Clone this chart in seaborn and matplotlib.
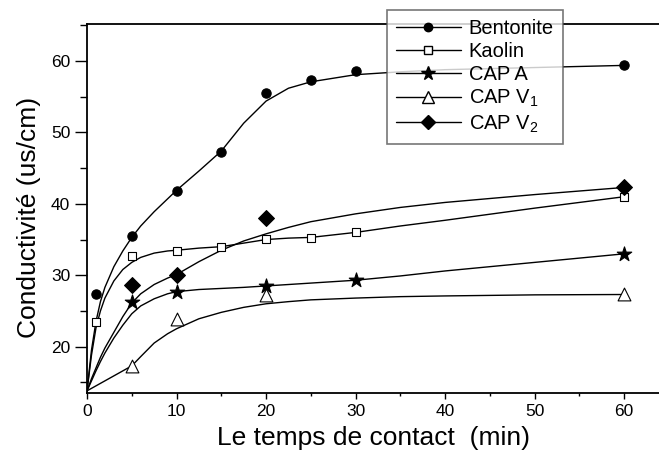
import numpy as np
import pandas as pd
import seaborn as sns
import matplotlib.pyplot as plt
from matplotlib.lines import Line2D
import matplotlib.ticker as ticker

# measured points
t_bent = [1, 5, 10, 15, 20, 25, 30, 60]
bent = [27.4, 35.5, 41.8, 47.2, 55.6, 57.3, 58.6, 59.4]
t_kaol = [1, 5, 10, 15, 20, 25, 30, 60]
kaol = [23.4, 32.7, 33.4, 33.9, 35.1, 35.2, 36.0, 41.0]
t_capa = [5, 10, 20, 30, 60]
capa = [26.2, 27.7, 28.5, 29.3, 33.0]
t_capv1 = [5, 10, 20, 60]
capv1 = [17.3, 23.8, 27.2, 27.35]
t_capv2 = [5, 10, 20, 60]
capv2 = [28.6, 30.0, 38.0, 42.3]

# fitted curves
t_fit = [0, 0.5, 1, 1.5, 2, 3, 4, 5, 6, 7.5, 9, 10, 12.5, 15, 17.5, 20, 22.5, 25, 30, 35, 40, 50, 60]
fit_bent = [13.8, 19.5, 23.5, 26.3, 28.3, 31.2, 33.4, 35.3, 36.9, 38.9, 40.7, 41.9, 44.6, 47.4, 51.3,
            54.4, 56.2, 57.1, 58.1, 58.5, 58.8, 59.1, 59.4]
fit_kaol = [13.8, 18.8, 22.6, 25.0, 26.8, 29.2, 30.8, 31.8, 32.5, 33.1, 33.4, 33.5, 33.8, 34.0, 34.5,
            35.0, 35.2, 35.3, 36.0, 36.9, 37.7, 39.4, 41.0]
fit_capa = [13.8, 15.2, 16.6, 17.9, 19.1, 21.2, 23.0, 24.6, 25.7, 26.7, 27.4, 27.7, 28.0, 28.15, 28.3,
            28.5, 28.7, 28.9, 29.3, 29.9, 30.6, 31.8, 33.0]
fit_capv1 = [13.8, 14.15, 14.5, 14.85, 15.2, 15.9, 16.6, 17.3, 18.6, 20.5, 21.8, 22.5, 23.9, 24.8, 25.5,
             26.0, 26.3, 26.55, 26.8, 27.0, 27.1, 27.25, 27.3]
fit_capv2 = [13.8, 15.5, 17.0, 18.5, 19.8, 22.0, 24.2, 26.1, 27.4, 28.7, 29.6, 30.1, 31.9, 33.5, 34.8,
             35.8, 36.7, 37.5, 38.6, 39.5, 40.2, 41.3, 42.3]

names = ["Bentonite", "Kaolin", "CAP A", "CAP V$_1$", "CAP V$_2$"]
pts = [(t_bent, bent), (t_kaol, kaol), (t_capa, capa), (t_capv1, capv1), (t_capv2, capv2)]
fits = [fit_bent, fit_kaol, fit_capa, fit_capv1, fit_capv2]

pts_df = pd.concat([pd.DataFrame({"t": t, "c": c, "s": n}) for (t, c), n in zip(pts, names)])
fit_df = pd.concat([pd.DataFrame({"t": t_fit, "c": f, "s": n}) for f, n in zip(fits, names)])

sns.set_style("ticks")
plt.rcParams['font.family'] = ['Liberation Sans', 'DejaVu Sans']
plt.rcParams['mathtext.default'] = 'regular'
for k in ['text.color', 'axes.labelcolor', 'xtick.color', 'ytick.color', 'axes.edgecolor']:
    plt.rcParams[k] = 'black'

markers = {"Bentonite": "o", "Kaolin": "s", "CAP A": "*", "CAP V$_1$": "^", "CAP V$_2$": "D"}
faces = {"Bentonite": "black", "Kaolin": "white", "CAP A": "black", "CAP V$_1$": "white", "CAP V$_2$": "black"}
sizes = {"Bentonite": 45, "Kaolin": 35, "CAP A": 120, "CAP V$_1$": 85, "CAP V$_2$": 65}

fig = plt.figure(figsize=(6.59, 4.62), dpi=100)
ax = fig.add_axes([87/659, 1-393/462, (660-87)/659, (393-24)/462])

sns.lineplot(data=fit_df, x="t", y="c", units="s", estimator=None, color="black", lw=1.0, ax=ax, sort=False)
for n in names:
    sub = pts_df[pts_df.s == n]
    sns.scatterplot(data=sub, x="t", y="c", ax=ax, marker=markers[n], color=faces[n],
                    edgecolor="black", linewidth=0.8, s=sizes[n], zorder=3)

ax.set_xlim(0, 64)
ax.set_ylim(13.5, 65.2)
ax.xaxis.set_major_locator(ticker.MultipleLocator(10))
ax.xaxis.set_minor_locator(ticker.MultipleLocator(5))
ax.yaxis.set_major_locator(ticker.MultipleLocator(10))
ax.yaxis.set_minor_locator(ticker.MultipleLocator(5))
ax.tick_params(axis='x', which='major', length=4, width=1, labelsize=12.5, pad=4)
ax.tick_params(axis='x', which='minor', length=2.5, width=1)
ax.tick_params(axis='y', which='major', length=9, width=1, labelsize=12.5, pad=3)
ax.tick_params(axis='y', which='minor', length=5, width=1)
for sp in ax.spines.values():
    sp.set_linewidth(1.3)

ax.set_xlabel("Le temps de contact  (min)", fontsize=19, labelpad=5)
ax.set_ylabel("Conductivité (us/cm)", fontsize=19)
ax.yaxis.set_label_coords(-0.08, 0.476)

handles = [Line2D([], [], color="black", lw=1, marker=markers[n], markerfacecolor=faces[n],
                  markeredgecolor="black", markersize=np.sqrt(sizes[n]) * 0.9) for n in names]
leg = fig.legend(handles, names, loc="upper left", bbox_to_anchor=(387/659, 1-10/462),
                 fontsize=14.5, frameon=True, fancybox=False, edgecolor="#555555",
                 handlelength=3.2, handletextpad=0.4, labelspacing=0.2, borderpad=0.45,
                 borderaxespad=0)
leg.get_frame().set_linewidth(1.2)

fig.savefig("out.png", dpi=100)
